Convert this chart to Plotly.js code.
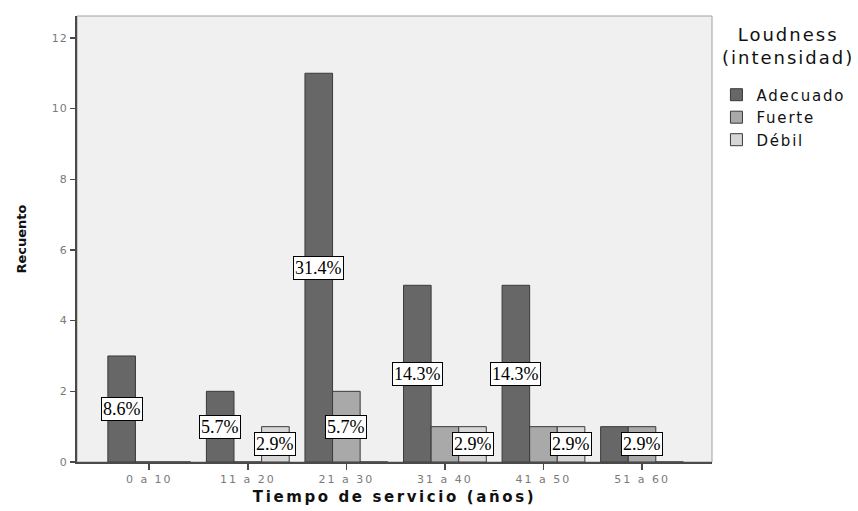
<!DOCTYPE html>
<html>
<head>
<meta charset="utf-8">
<script src="https://cdn.plot.ly/plotly-3.0.1.min.js"></script>
<style>
  body { margin: 0; background: #fff; }
  #chart { width: 858px; height: 511px; }
  .legendtext { letter-spacing: 1.8px; }
  .xtick text { letter-spacing: 2px; }
  .ytick text { letter-spacing: 1px; }
  .g-xtitle text { letter-spacing: 2.6px; }
  .legtitle { letter-spacing: 2px; }
</style>
</head>
<body>
<div id="chart"></div>
<script>
// ---- data ----
const categories = ['0 a 10', '11 a 20', '21 a 30', '31 a 40', '41 a 50', '51 a 60'];
const seriesNames = ['Adecuado', 'Fuerte', 'Débil'];
const adecuado = [3, 2, 11, 5, 5, 1];
const fuerte   = [0, 0, 2, 1, 1, 1];
const debil    = [0, 1, 0, 1, 1, 0];
// percentage labels shown in the reference (empty = hidden)
const adecuadoLabels = ['8.6%', '5.7%', '31.4%', '14.3%', '14.3%', ''];
const fuerteLabels   = ['', '', '5.7%', '', '', '2.9%'];
const debilLabels    = ['', '2.9%', '', '2.9%', '2.9%', ''];
const yTicks = [0, 2, 4, 6, 8, 10, 12];
const legendTitle = 'Loudness<br>(intensidad)';
const xTitle = 'Tiempo de servicio (años)';
const yTitle = 'Recuento';

// ---- styles ----
const colors = ['#676767', '#a9a9a9', '#d6d6d6'];
const bargap = 0.16;

const values = [adecuado, fuerte, debil];
const labels = [adecuadoLabels, fuerteLabels, debilLabels];

const traces = values.map((v, k) => ({
  type: 'bar',
  name: seriesNames[k],
  x: categories,
  y: v,
  marker: { color: colors[k], line: { color: '#3a3a3a', width: 1 } },
  hoverinfo: 'x+y+name'
}));

const nS = values.length;
const barW = (1 - bargap) / nS;
const annotations = [];
labels.forEach((arr, k) => {
  arr.forEach((t, i) => {
    if (!t) return;
    annotations.push({
      x: i + (k - (nS - 1) / 2) * barW,
      y: values[k][i] / 2,
      xref: 'x', yref: 'y',
      text: t,
      showarrow: false,
      font: { family: 'Liberation Serif, serif', size: 18, color: '#000' },
      bgcolor: '#ffffff',
      bordercolor: '#000000',
      borderwidth: 1,
      borderpad: 1
    });
  });
});
annotations.push({
  xref: 'paper', yref: 'paper', x: 1.12, y: 0.986,
  xanchor: 'center', yanchor: 'top', align: 'center',
  text: legendTitle, showarrow: false,
  font: { family: 'DejaVu Sans, sans-serif', size: 18, color: '#111' }
});

const layout = {
  width: 858,
  height: 511,
  margin: { l: 77, r: 146, t: 16, b: 49, pad: 0, autoexpand: false },
  paper_bgcolor: '#ffffff',
  plot_bgcolor: '#f0f0f0',
  barmode: 'group',
  bargap: bargap,
  bargroupgap: 0,
  showlegend: true,
  font: { family: 'DejaVu Sans, sans-serif', color: '#222' },
  xaxis: {
    type: 'category',
    range: [-0.733, 5.71],
    automargin: false,
    showline: true, linecolor: '#4a4a4a', linewidth: 2,
    ticks: 'outside', ticklen: 6, tickwidth: 1.5, tickcolor: '#4a4a4a',
    tickfont: { family: 'DejaVu Sans, sans-serif', size: 11, color: '#7a7a7a' },
    showgrid: false, zeroline: false,
    title: { text: xTitle, standoff: 6,
             font: { family: 'DejaVu Sans, sans-serif', size: 15, color: '#111', weight: 'bold' } }
  },
  yaxis: {
    range: [0, 12.62],
    tickvals: yTicks,
    automargin: false,
    showline: true, linecolor: '#4a4a4a', linewidth: 2,
    ticks: 'outside', ticklen: 5, tickwidth: 1.5, tickcolor: '#4a4a4a',
    tickfont: { family: 'DejaVu Sans, sans-serif', size: 11, color: '#7a7a7a' },
    showgrid: false, zeroline: false,
    title: { text: yTitle, standoff: 22,
             font: { family: 'DejaVu Sans, sans-serif', size: 13, color: '#111', weight: 'bold' } }
  },
  legend: {
    x: 1.007, xanchor: 'left',
    y: 0.86, yanchor: 'top',
    bgcolor: 'rgba(0,0,0,0)',
    font: { family: 'DejaVu Sans, sans-serif', size: 15, color: '#111' },
    tracegroupgap: 0,
    itemclick: false
  },
  shapes: [{
    type: 'rect', xref: 'paper', yref: 'paper', x0: 0, x1: 1, y0: 0, y1: 1,
    line: { color: '#a0a0a0', width: 1 }, fillcolor: 'rgba(0,0,0,0)', layer: 'below'
  }],
  annotations: annotations
};

Plotly.newPlot('chart', traces, layout, { displayModeBar: false, staticPlot: true }).then(() => {
  document.querySelectorAll('.annotation-text').forEach(el => {
    if (el.textContent.indexOf('Loudness') === 0) el.classList.add('legtitle');
  });
});
</script>
</body>
</html>
